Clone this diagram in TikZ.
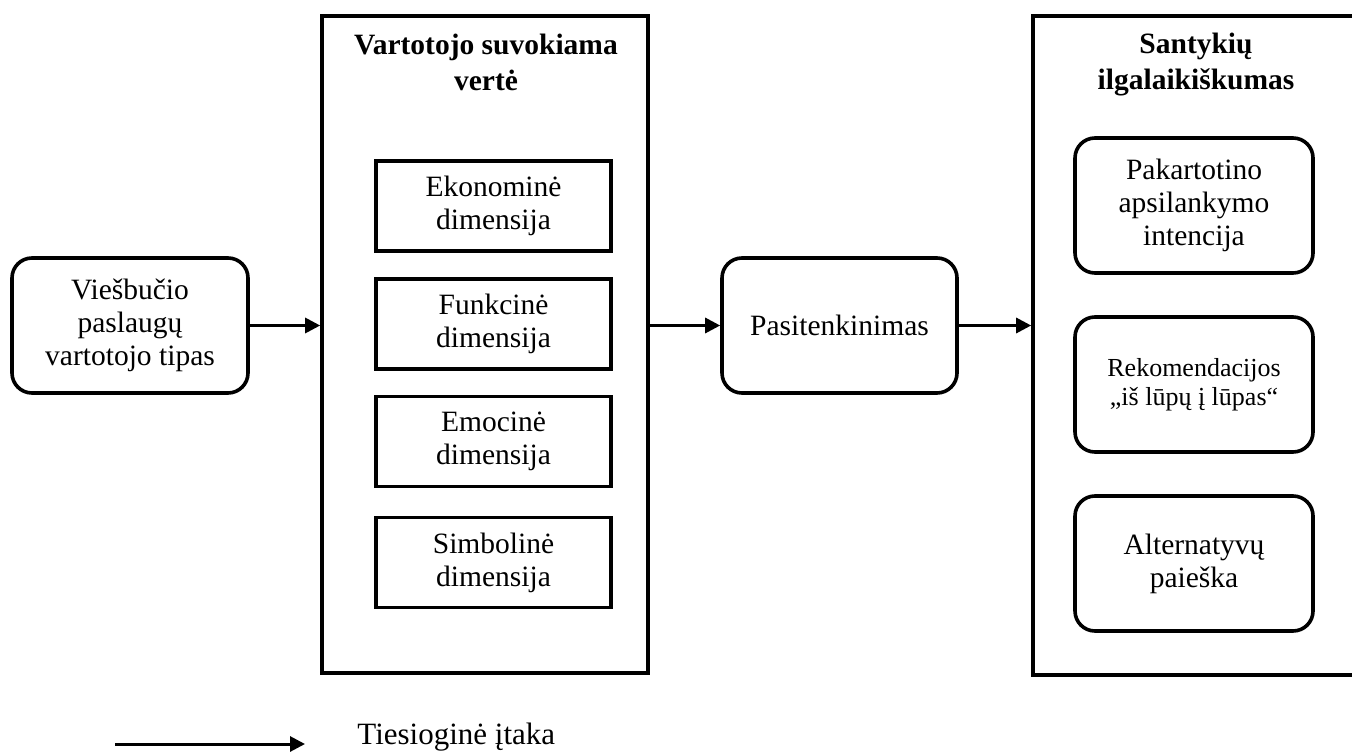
\documentclass[tikz,border=0pt]{standalone}
\usepackage{fontspec}
\setmainfont{Liberation Serif}
\usetikzlibrary{arrows.meta}
\tikzset{
  box/.style={draw,line width=1.8pt,inner sep=0pt,align=center,font=\fontsize{14.75}{16.5}\selectfont},
  rbox/.style={box,rounded corners=10pt,minimum width=118pt,minimum height=67.5pt},
  dbox/.style={box,minimum width=117.5pt,minimum height=45pt},
  outerframe/.style={draw,line width=1.8pt,inner sep=0pt},
  boxtitle/.style={align=center,font=\bfseries\fontsize{14.75}{18}\selectfont},
  flow/.style={line width=1.5pt,-{Triangle[length=7.5pt,width=7.5pt]}}
}
\begin{document}
\begin{tikzpicture}[x=0.5pt,y=-0.5pt]
\useasboundingbox (0,0) rectangle (1352,753);
\clip (0,0) rectangle (1352,753);
%Vartotojo tipas
\node[rbox] (tipas) at (130,325.5) {Viešbučio\\paslaugų\\vartotojo tipas};
%Suvokiama verte
\node[outerframe,minimum width=163pt,minimum height=328.5pt] (verte) at (485,344.5) {};
\node[boxtitle] (vertetitle) at (486,62) {Vartotojo suvokiama\\vertė};
\node[dbox] (ekonom) at (493.5,206) {Ekonominė\\dimensija};
\node[dbox] (funkc) at (493.5,324) {Funkcinė\\dimensija};
\node[dbox] (emoc) at (493.5,441.5) {Emocinė\\dimensija};
\node[dbox] (simbol) at (493.5,562.5) {Simbolinė\\dimensija};
%Pasitenkinimas
\node[rbox,minimum width=117.5pt] (pasit) at (839.5,325.5) {Pasitenkinimas};
%Santykiu ilgalaikiskumas
\node[outerframe,minimum width=161pt,minimum height=329.5pt] (santyk) at (1194,345.5) {};
\node[boxtitle] (santyktitle) at (1196,65) {Santykių\\ilgalaikiškumas};
\node[rbox,minimum width=119pt] (intenc) at (1194,205.5) {Pakartotino\\apsilankymo\\intencija};
\node[rbox,minimum width=119pt,font=\fontsize{13}{14.5}\selectfont] (rekom) at (1194,384.5) {Rekomendacijos\\„iš lūpų į lūpas“};
\node[rbox,minimum width=119pt] (altern) at (1194,563.5) {Alternatyvų\\paieška};
%Arrows
\draw[flow] (tipas.east) -- (tipas.east -| verte.west);
\draw[flow] (pasit.west -| verte.east) -- (pasit.west);
\draw[flow] (pasit.east) -- (pasit.east -| santyk.west);
%Legend
\coordinate (legstart) at (115,744);
\coordinate (legend) at (305,744);
\draw[flow] (legstart) -- (legend);
\node[anchor=base west,inner sep=0pt,font=\fontsize{15.5}{17}\selectfont] (legtxt) at (357,744) {Tiesioginė įtaka};
\end{tikzpicture}
\end{document}
